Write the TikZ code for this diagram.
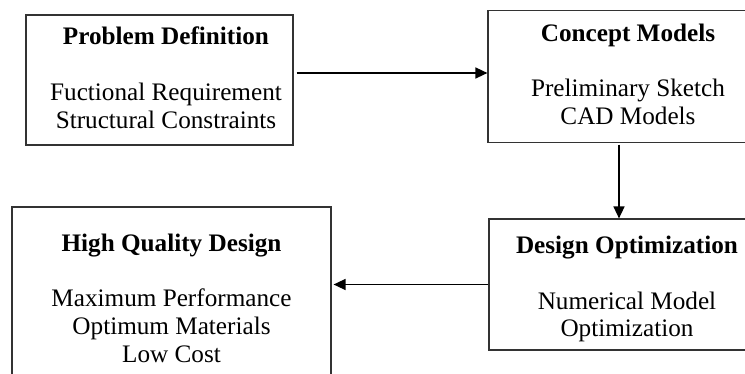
\documentclass[tikz,border=0pt]{standalone}
\usepackage{fontspec}
\setmainfont{Liberation Serif}
\usetikzlibrary{arrows.meta}

\begin{document}
\begin{tikzpicture}[x=1pt, y=-1pt,
every node/.style={inner sep=0pt, align=center,
    font=\fontsize{25.2}{27.8}\selectfont
    },
stage/.style={draw=black!80, line width=1.2pt},
words/.style={anchor=south, text depth=0pt},
flow/.style={line width=1.5pt, -{Triangle[length=12pt,width=11pt]}}
]
\useasboundingbox (0,0) rectangle (745,374);
\clip (0,0) rectangle (745,374);

% boxes
\node[stage, minimum width=267pt, minimum height=130pt] (def) at (159.5,80) {};
\node[stage, minimum width=280pt, minimum height=132pt] (models) at (628,76.5) {};
\node[stage, minimum width=276pt, minimum height=131pt] (opt) at (627,284.5) {};
\node[stage, minimum width=319pt, minimum height=180pt] (hqd) at (171.5,297) {};

% texts
\node[words] (def-txt) at (166,128.3) {\textbf{Problem Definition}\\[27.8pt]
    Fuctional Requirement\\ Structural Constraints};
\node[words] (models-txt) at (628,125) {\textbf{Concept Models}\\[27.8pt]
    Preliminary Sketch\\ CAD Models};
\node[words] (opt-txt) at (627,337) {\textbf{Design Optimization}\\[27.8pt]
    Numerical Model\\ Optimization};
\node[words] (hqd-txt) at (171.5,362.7) {\textbf{High Quality Design}\\[27.8pt]
    Maximum Performance\\ Optimum Materials\\ Low Cost};

% arrow ends
\coordinate (def-out) at ([shift={(3pt,7pt)}]def.east);
\coordinate (models-in) at ([yshift=7pt]def.east -| models.west);
\coordinate (models-out) at ([shift={(-9pt,-1.5pt)}]models.south);
\coordinate (opt-in) at ([xshift=-9pt]models.south |- opt.north);
\coordinate (opt-out) at (opt.west);
\coordinate (hqd-in) at ([xshift=2pt]opt.west -| hqd.east);

\foreach \i/\j in {def-out/models-in, models-out/opt-in, opt-out/hqd-in}
    \draw [flow] (\i) -- (\j);

\end{tikzpicture}
\end{document}
